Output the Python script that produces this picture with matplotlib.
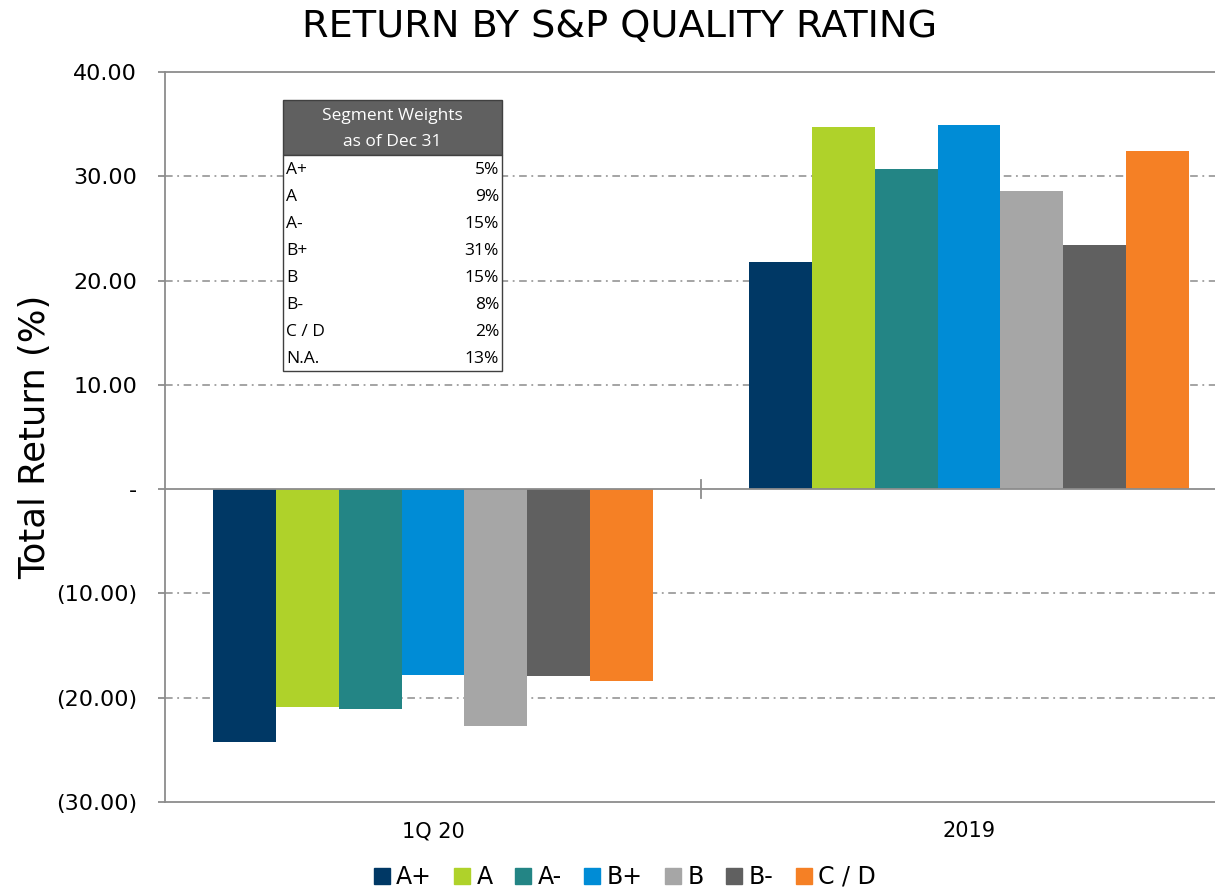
import numpy as np
import matplotlib.pyplot as plt
from matplotlib.patches import Rectangle
from matplotlib.lines import Line2D
from matplotlib.ticker import FuncFormatter

periods = ['1Q 20', '2019']
ratings = ['A+', 'A', 'A-', 'B+', 'B', 'B-', 'C / D']
colors = ['#003865', '#AFD22A', '#238585', '#008CD6', '#A6A6A6', '#606060', '#F58025']
returns = {
    'A+': [-24.2, 21.8],
    'A': [-20.9, 34.7],
    'A-': [-21.1, 30.7],
    'B+': [-17.8, 34.9],
    'B': [-22.7, 28.6],
    'B-': [-17.9, 23.4],
    'C / D': [-18.4, 32.4],
}
weight_labels = ['A+', 'A', 'A-', 'B+', 'B', 'B-', 'C / D', 'N.A.']
weights = ['5%', '9%', '15%', '31%', '15%', '8%', '2%', '13%']

W, H = 1215, 893
fig = plt.figure(figsize=(W / 100, H / 100), dpi=100)
ax = fig.add_axes([165 / W, 91 / H, (1237 - 165) / W, (802 - 72) / H])

grey = '#8C8C8C'
x = np.arange(len(periods))
bw = 0.82 / len(ratings)
for i, r in enumerate(ratings):
    ax.bar(x - 0.41 + bw * (i + 0.5), returns[r], width=bw, color=colors[i], zorder=3)

ax.set_xlim(-0.5, 1.5)
ax.set_ylim(-30, 40)
ax.set_yticks(np.arange(-30, 41, 10))


def fmt(v, pos):
    if abs(v) < 1e-9:
        return '-'
    if v < 0:
        return '(%.2f)' % abs(v)
    return '%.2f' % v


ax.yaxis.set_major_formatter(FuncFormatter(fmt))
for yv in [-20, -10, 10, 20, 30]:
    ax.axhline(yv, color=grey, lw=1.1, ls=(0, (5, 3, 1.2, 3)), zorder=1)
ax.axhline(0, color=grey, lw=1.3, zorder=4)
z = 30 / 70
ax.axvline(0.5, ymin=z - 0.012, ymax=z + 0.012, color=grey, lw=1.3, zorder=4)

ax.set_xticks(x)
ax.set_xticklabels(periods, fontsize=15)
ax.tick_params(axis='x', length=0, pad=14)
ax.tick_params(axis='y', length=5, width=1.3, color=grey, labelsize=16, pad=15)
for s in ['left', 'bottom', 'top']:
    ax.spines[s].set_color(grey)
    ax.spines[s].set_linewidth(1.3)
ax.spines['right'].set_visible(False)
ax.set_ylabel('Total Return (%)', fontsize=25.5, labelpad=3)

fig.text(620 / W, 1 - 27 / H, 'RETURN BY S&P QUALITY RATING', fontsize=27.5,
         ha='center', va='center')

# segment weights table
x0, x1 = 283 / W, 502 / W
top, head_b, row_h = 100, 155, 27
fig.patches.append(Rectangle((x0, 1 - head_b / H), x1 - x0, (head_b - top) / H,
                             transform=fig.transFigure, facecolor='#606060',
                             edgecolor='#404040', lw=1, zorder=5))
fig.patches.append(Rectangle((x0, 1 - 371 / H), x1 - x0, (371 - head_b) / H,
                             transform=fig.transFigure, facecolor='white',
                             edgecolor='#404040', lw=1, zorder=5))
tf = ['Open Sans', 'DejaVu Sans']
fig.text((x0 + x1) / 2, 1 - 116 / H, 'Segment Weights', color='white', fontsize=12.5,
         ha='center', va='center', family=tf, zorder=6)
fig.text((x0 + x1) / 2, 1 - 142 / H, 'as of Dec 31', color='white', fontsize=12.5,
         ha='center', va='center', family=tf, zorder=6)
for k, (lab, w) in enumerate(zip(weight_labels, weights)):
    yy = 1 - (170 + row_h * k) / H
    fig.text(286 / W, yy, lab, fontsize=12.5, ha='left', va='center', family=tf, zorder=6)
    fig.text(499 / W, yy, w, fontsize=12.5, ha='right', va='center', family=tf, zorder=6)

handles = [Line2D([], [], ls='', marker='s', markersize=12, color=c) for c in colors]
fig.legend(handles, ratings, loc='center', bbox_to_anchor=(624 / W, 1 - 877 / H),
           ncol=len(ratings), frameon=False, fontsize=17, handlelength=0.8,
           handletextpad=0.2, columnspacing=0.9)

fig.savefig('out.png', dpi=100)
